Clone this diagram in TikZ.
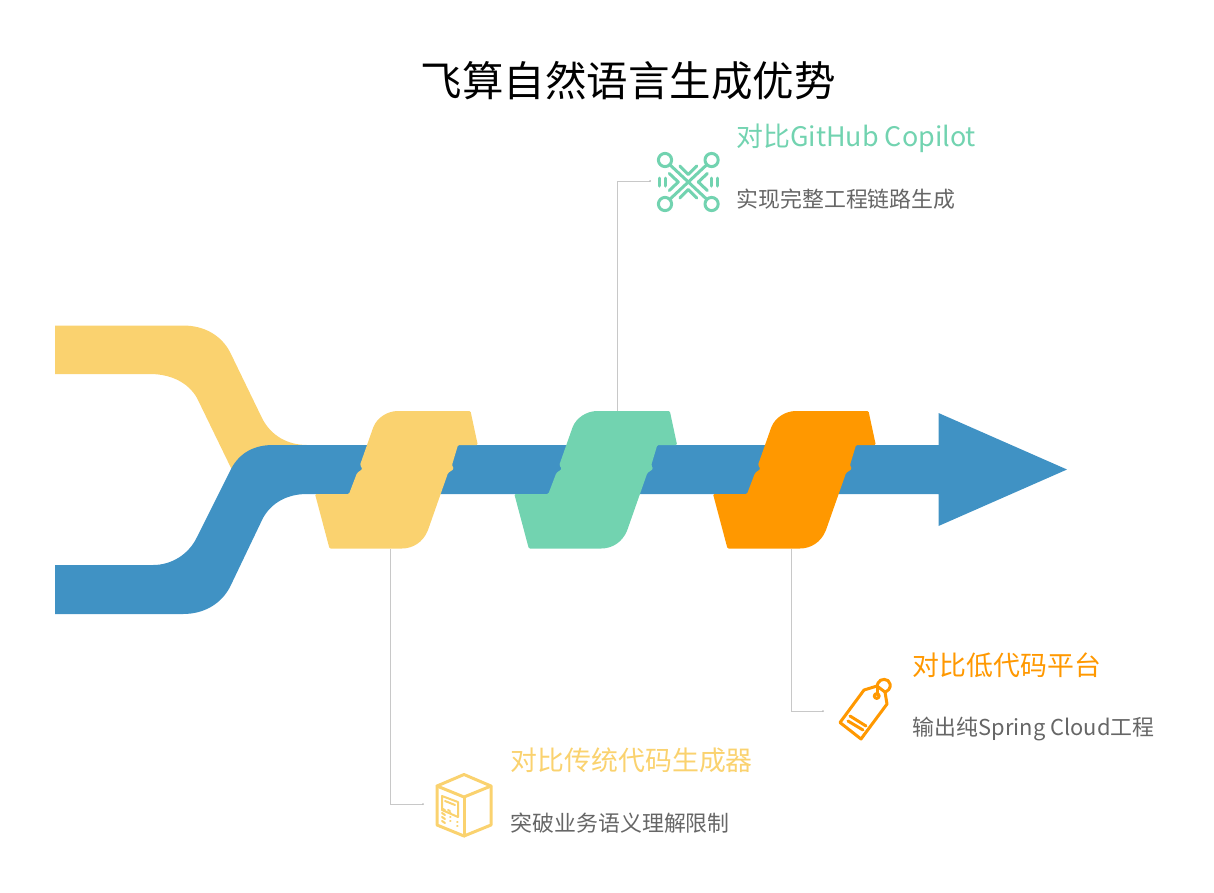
\documentclass[tikz,border=0pt]{standalone}
\usepackage{fontspec}
\setmainfont{Noto Sans CJK SC}
\definecolor{cblue}{HTML}{4092C4}
\definecolor{cyellow}{HTML}{FAD26F}
\definecolor{cgreen}{HTML}{72D3B0}
\definecolor{corange}{HTML}{FF9800}
\definecolor{cdesc}{HTML}{666666}
\definecolor{clead}{HTML}{C8C8C8}
\tikzset{
  titletext/.style={anchor=base,text=black,inner sep=0pt,font=\fontsize{41.5}{46}\selectfont},
  headtext/.style={anchor=base west,inner sep=0pt,font=\fontsize{26.9}{30}\selectfont},
  desctext/.style={anchor=base west,inner sep=0pt,text=cdesc,font=\fontsize{21.9}{25}\selectfont},
  leader/.style={draw=clead,line width=1pt},
  iconline/.style={line width=3pt,line cap=round,line join=round},
  fineline/.style={line width=2pt,line cap=round,line join=round}
}
\newcommand{\slab}[2]{%
  \fill[#2,shift={(#1,0)},rounded corners=1.2pt]
    (398,411) -- (470.5,411) -- (477.8,445) -- (458,445) -- (452,465) -- (453.8,469) -- (448,473)
    -- (428,530) [sharp corners] .. controls (423,542) and (413,548.5) .. (402,548.5) [rounded corners=1.2pt]
    -- (329.5,548.5) -- (315,494) -- (349,494) -- (357,473) -- (362.5,469) -- (360,465) -- (373,428)
    [sharp corners] .. controls (377,418) and (387,411) .. (398,411) -- cycle;}
\begin{document}
\begin{tikzpicture}[x=1pt,y=-1pt]
\useasboundingbox (0,0) rectangle (1214,892);
% streams
\fill[cyellow] (55,325.5) -- (183,325.5) .. controls (204,325.5) and (221,335) .. (230,352)
  -- (262,418) .. controls (271,436) and (288,445) .. (307,445) -- (307,480) -- (232,470)
  -- (197,398) .. controls (188,382) and (170,374) .. (150,374) -- (55,374) -- cycle;
\fill[cblue] (55,565) -- (153,565) .. controls (172,565) and (189,554) .. (197,537)
  -- (231,469) .. controls (240,452) and (255,445) .. (273,445) -- (938.5,445) -- (938.5,413)
  -- (1067,469.5) -- (938.5,526) -- (938.5,494) -- (307,494)
  .. controls (288,494) and (272,502) .. (263,518) -- (230,587)
  .. controls (221,604) and (204,614) .. (183,614) -- (55,614) -- cycle;
% slabs
\slab{0}{cyellow}
\slab{199.3}{cgreen}
\slab{398}{corange}
\coordinate (slabA) at (390.5,548.5);
\coordinate (slabB) at (617.5,411);
\coordinate (slabC) at (791.8,548.5);
\coordinate (endA) at (423,804);
\coordinate (endB) at (650,181);
\coordinate (endC) at (823,711);
\draw[leader] (slabA) |- (endA);
\draw[leader] (slabB) |- (endB);
\draw[leader] (slabC) |- (endC);
\fill[clead!80!gray] (endA) circle (1pt) (endB) circle (1pt) (endC) circle (1pt);
% texts
\node[titletext] (title) at (628.3,96) {飞算自然语言生成优势};
\node[headtext,text=cgreen] (hb) at (736.3,146) {对比GitHub Copilot};
\node[desctext] (db) at (736.3,207) {实现完整工程链路生成};
\node[headtext,text=corange] (hc) at (912.5,675) {对比低代码平台};
\node[desctext] (dc) at (912.7,735) {输出纯Spring Cloud工程};
\node[headtext,text=cyellow] (ha) at (510.5,770) {对比传统代码生成器};
\node[desctext] (da) at (510.5,831) {突破业务语义理解限制};
% network icon
\begin{scope}[shift={(688.3,182)},draw=cgreen,iconline]
  \foreach \sx/\sy in {-1/-1,1/-1,-1/1,1/1}{
    \draw (\sx*23.3,\sy*22) circle (6.6);
    \draw (\sx*18.5,\sy*17.3) -- (0,0);
  }
  \draw (-8.5,-16) -- (0,-7.5) -- (8.5,-16);
  \draw (-8.5,16) -- (0,7.5) -- (8.5,16);
  \draw (-19,-8.5) -- (-10,0) -- (-19,8.5);
  \draw (19,-8.5) -- (10,0) -- (19,8.5);
  \draw (-29,-4) -- (-29,4) (-23,-4) -- (-23,4);
  \draw (23,-4) -- (23,4) (29,-4) -- (29,4);
\end{scope}
% tag icon
\begin{scope}[draw=corange,iconline]
  \draw (864,690) -- (877,686) -- (885,692) -- (887,704) -- (861,739) -- (840,722.5) -- cycle;
  \draw (877,686) -- (877,695);
  \draw (877,686) -- (878,683) .. controls (880,678) and (889,678) .. (890,684) .. controls (891,688) and (888,691) .. (885,692);
  \draw (876.7,696) circle (2.4);
  \draw (850,716) -- (866,726);
  \draw (848,721) -- (863,730);
\end{scope}
% box icon
\begin{scope}[draw=cyellow,iconline]
  \draw (464,774.5) -- (491,786) -- (491,825) -- (464,836) -- (437,825) -- (437,786) -- cycle;
  \draw (437,786) -- (464,797) -- (491,786);
  \draw (464,797) -- (464,836);
  \draw[fineline] (442,796) -- (458,802) -- (458,817) -- (442,810) -- cycle;
  \draw[fineline] (445,801) -- (455,805);
  \draw[fineline] (443,809) -- (445,810) (448,810) -- (450,811);
  \draw[fineline] (442,813) -- (445,815) (442,817) -- (445,819) (442,821) -- (445,823);
  \draw[fineline] (450,813) -- (450.5,813) (450,817) -- (450.5,817) (450,821) -- (450.5,821);
  \draw[fineline] (457,822) -- (457.5,822) (457,826) -- (457.5,826);
\end{scope}
\end{tikzpicture}
\end{document}
